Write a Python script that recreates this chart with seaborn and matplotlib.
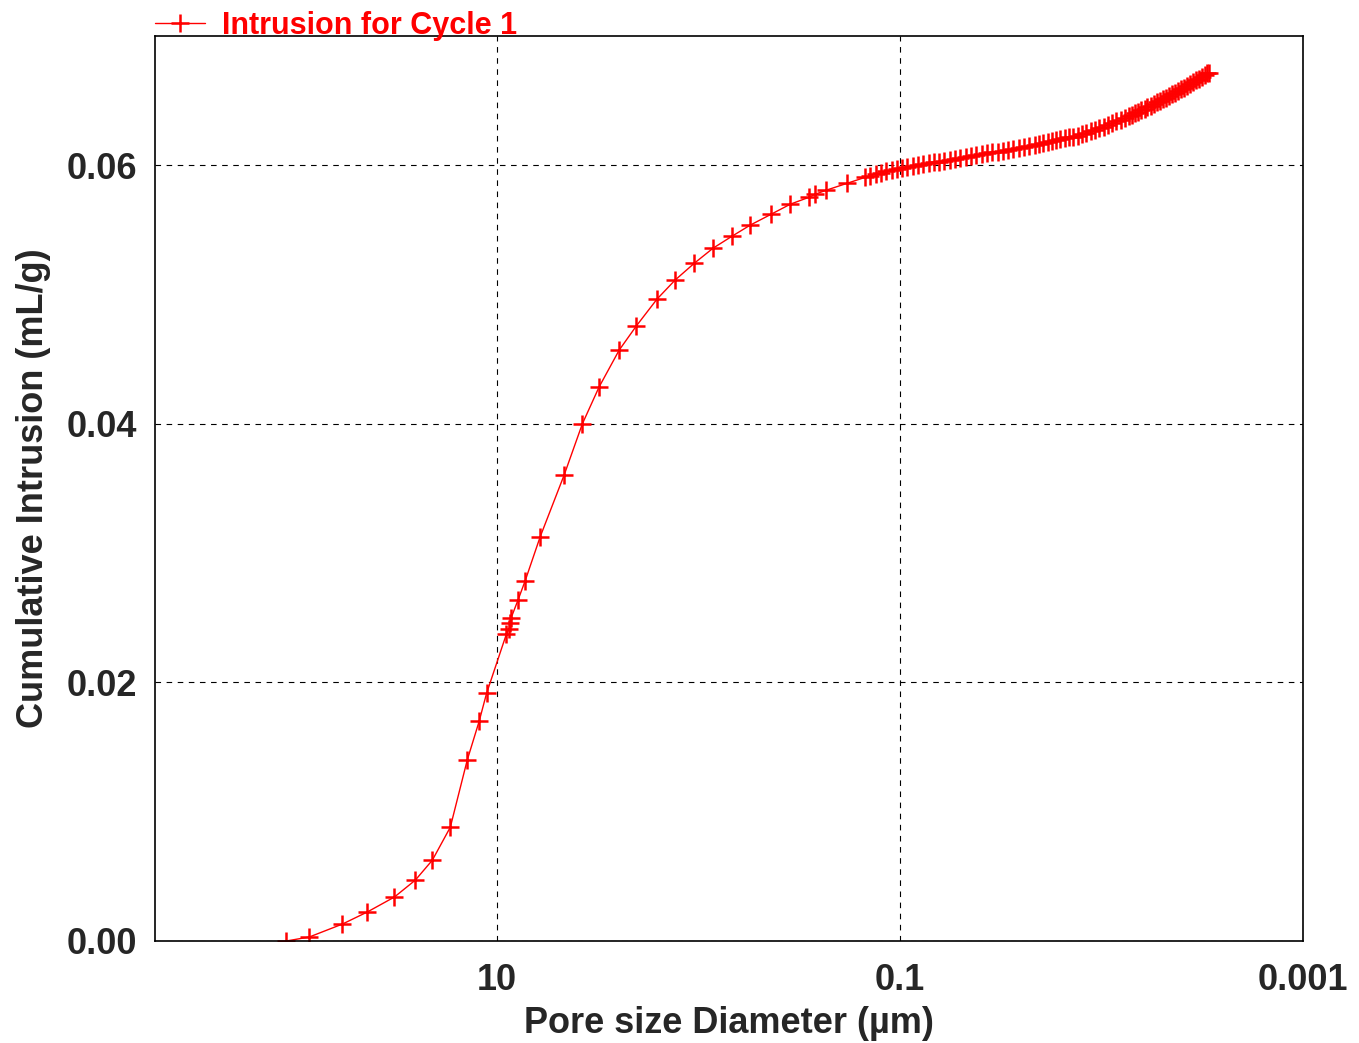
import matplotlib
matplotlib.use("Agg")
import matplotlib.pyplot as plt
import matplotlib.ticker as mticker
import seaborn as sns
import pandas as pd

# Pore diameter (µm) and cumulative intrusion (mL/g)
diameter_um = [
    111.4, 85.7, 58.7, 44.2, 32.4, 25.5, 21.0, 17.1, 14.1, 12.3, 11.3,
    9.02, 8.72, 8.62, 8.52, 7.87, 7.26, 6.12, 4.65, 3.78, 3.12, 2.48,
    2.04, 1.61, 1.31, 1.05, 0.848, 0.682, 0.555, 0.436, 0.351, 0.283,
    0.264, 0.233, 0.183,
    0.149, 0.141, 0.132, 0.124, 0.117, 0.110, 0.104, 0.0977, 0.0920,
    0.0865, 0.0815, 0.0767, 0.0722, 0.0679, 0.0640, 0.0603, 0.0566,
    0.0533, 0.0502, 0.0472, 0.0445, 0.0419, 0.0394, 0.0371, 0.0349,
    0.0328, 0.0309, 0.0291, 0.0274, 0.0258, 0.0243, 0.0228, 0.0215,
    0.0204, 0.0195, 0.0185, 0.0176, 0.0168, 0.0160, 0.0152, 0.0145,
    0.0138, 0.0131, 0.0125, 0.0119, 0.0113, 0.0108, 0.0103, 0.00977,
    0.00931, 0.00887, 0.00844, 0.00804, 0.00766, 0.00728,
    0.00703, 0.00679, 0.00656, 0.00634, 0.00612, 0.00592, 0.00571,
    0.00552, 0.00533, 0.00515, 0.00498, 0.00481, 0.00465, 0.00449,
    0.00434, 0.00419, 0.00405, 0.00391, 0.00378, 0.00365, 0.00352,
    0.00340, 0.00329, 0.00318, 0.00307, 0.00299, 0.00293,
]
cumulative_ml_g = [
    0.0, 0.00031, 0.00131, 0.00224, 0.00340, 0.00471, 0.00625, 0.00880,
    0.01398, 0.01699, 0.01915, 0.02371, 0.02417, 0.02463, 0.02502,
    0.02641, 0.02788, 0.03127, 0.03606, 0.04000, 0.04286, 0.04571,
    0.04757, 0.04965, 0.05112, 0.05243, 0.05359, 0.05452, 0.05537,
    0.05622, 0.05699, 0.05753, 0.05776, 0.05807, 0.05861,
    0.05907, 0.05919, 0.05931, 0.05942, 0.05952, 0.05962, 0.05973,
    0.05981, 0.05988, 0.05995, 0.06002, 0.06009, 0.06016, 0.06023,
    0.06029, 0.06036, 0.06043, 0.06050, 0.06057, 0.06064, 0.06071,
    0.06078, 0.06085, 0.06092, 0.06099, 0.06106, 0.06113, 0.06120,
    0.06129, 0.06136, 0.06144, 0.06151, 0.06159,
    0.06165, 0.06172, 0.06179, 0.06187, 0.06194, 0.06201, 0.06208,
    0.06215, 0.06222, 0.06229, 0.06240, 0.06251, 0.06263, 0.06274,
    0.06286, 0.06300, 0.06313, 0.06326, 0.06340, 0.06352, 0.06365,
    0.06379,
    0.06391, 0.06402, 0.06415, 0.06426, 0.06438, 0.06450, 0.06462,
    0.06474, 0.06486, 0.06500, 0.06512, 0.06524, 0.06537, 0.06549,
    0.06561, 0.06574, 0.06587, 0.06601, 0.06615, 0.06629, 0.06643,
    0.06657, 0.06671, 0.06685, 0.06699, 0.06710, 0.06717,
]

series_label = "Intrusion for Cycle 1"
x_label = "Pore size Diameter (µm)"
y_label = "Cumulative Intrusion (mL/g)"
x_tick_values = [10, 0.1, 0.001]
x_tick_labels = ["10", "0.1", "0.001"]
x_minor_values = [500, 100, 50, 5, 1, 0.5, 0.05, 0.01, 0.005]
y_tick_values = [0.0, 0.02, 0.04, 0.06]
y_tick_labels = ["0.00", "0.02", "0.04", "0.06"]

sns.set_style("white")
plt.rcParams["font.family"] = ["Liberation Sans", "DejaVu Sans"]
plt.rcParams["font.weight"] = "bold"

df = pd.DataFrame({"d": diameter_um, "v": cumulative_ml_g})

fig = plt.figure(figsize=(13.59, 10.43), dpi=100)
ax = fig.add_axes([155 / 1359, 1 - 941 / 1043, (1303 - 155) / 1359, (941 - 36) / 1043])

sns.lineplot(data=df, x="d", y="v", ax=ax, sort=False, color="red",
             linewidth=1.0, marker="+", markersize=13, markeredgewidth=1.8,
             markeredgecolor="red", label=series_label, estimator=None)

ax.set_xscale("log")
ax.set_xlim(500, 0.001)
ax.set_ylim(0, 0.07)

ax.xaxis.set_major_locator(mticker.FixedLocator(x_tick_values))
ax.xaxis.set_major_formatter(mticker.FixedFormatter(x_tick_labels))
ax.xaxis.set_minor_locator(mticker.FixedLocator(x_minor_values))
ax.xaxis.set_minor_formatter(mticker.NullFormatter())
ax.yaxis.set_major_locator(mticker.FixedLocator(y_tick_values))
ax.yaxis.set_major_formatter(mticker.FixedFormatter(y_tick_labels))
ax.yaxis.set_minor_locator(mticker.MultipleLocator(0.005))

ax.tick_params(axis="both", which="major", labelsize=26, color="black",
               width=1.0, direction="out")
ax.tick_params(axis="y", which="major", length=13, pad=0)
ax.tick_params(axis="x", which="major", length=11.5, pad=4)
ax.tick_params(axis="both", which="minor", color="black", width=1.0,
               length=6.5, direction="out")
for lab in ax.get_xticklabels() + ax.get_yticklabels():
    lab.set_fontweight("bold")

ax.grid(True, which="major", color="black", linestyle=(0, (5, 5)), linewidth=0.8)

for sp in ax.spines.values():
    sp.set_visible(True)
    sp.set_color("black")
    sp.set_linewidth(1.2)

ax.set_xlabel(x_label, fontsize=26, fontweight="bold", labelpad=6)
ax.set_ylabel(y_label, fontsize=26, fontweight="bold", labelpad=11)

leg = ax.legend(loc="lower left", bbox_to_anchor=(0.0, 0.995), frameon=False,
                borderpad=0, borderaxespad=0, handlelength=1.64,
                handletextpad=0.56, prop={"size": 22, "weight": "bold"})
for t in leg.get_texts():
    t.set_color("red")

fig.savefig("out.png", dpi=100)
